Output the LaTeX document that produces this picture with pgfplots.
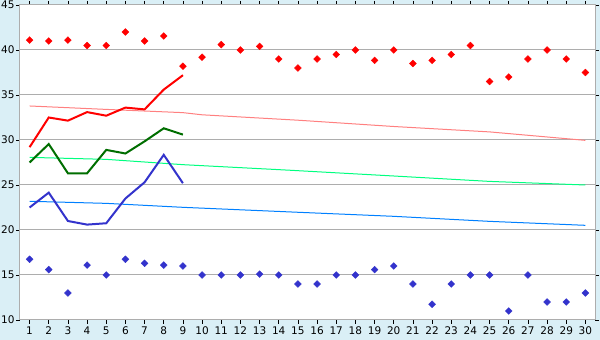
\documentclass[border=0pt]{standalone}
\usepackage{pgfplots}
\pgfplotsset{compat=1.18}
\usepackage{fontspec}
\setmainfont{DejaVu Sans}
\definecolor{bg}{HTML}{DAEFF6}
\definecolor{gridgray}{HTML}{ADADAD}
\definecolor{mred}{HTML}{FF0000}
\definecolor{mblue}{HTML}{3333CC}
\definecolor{dgreen}{HTML}{006E00}
\definecolor{salmon}{HTML}{FF8080}
\definecolor{spring}{HTML}{00FF80}
\definecolor{azure}{HTML}{0080FF}
\begin{document}
\begin{tikzpicture}[x=1pt,y=1pt]
\fill[bg] (0,0) rectangle (600,340);
\useasboundingbox (0,0) rectangle (600,340);
\begin{axis}[
  at={(20pt,20pt)}, anchor=south west,
  scale only axis, width=575pt, height=315pt,
  xmin=0.5, xmax=30.5, ymin=10, ymax=45,
  xtick={1,...,30}, ytick={10,15,...,45},
  ymajorgrids, grid style={gridgray, line width=1pt},
  axis line style={gridgray, line width=1pt},
  tick style={black, line width=0.8pt},
  tick align=outside, major tick length=4pt,
  ticklabel style={font=\fontsize{10.5}{12}\selectfont},
  xticklabel style={yshift=1pt},
  yticklabel style={xshift=2pt},
  /pgf/number format/assume math mode=true,
  axis background/.style={fill=white},
]
% trend lines
\addplot[salmon, line width=1pt] coordinates {(1,33.78) (5,33.4) (9,33.04) (10,32.8) (15,32.2) (20,31.5) (25,30.9) (30,29.96)};
\addplot[spring, line width=1pt] coordinates {(1,28.07) (5,27.85) (9,27.26) (14.5,26.65) (20,26.0) (25,25.4) (30,25.0)};
\addplot[azure, line width=1pt] coordinates {(1,23.19) (5,22.96) (9,22.52) (15,21.97) (20,21.52) (25,20.96) (30,20.52)};
% lines
\addplot[mred, line width=2pt] coordinates {(1,29.2) (2,32.5) (3,32.15) (4,33.1) (5,32.7) (6,33.6) (7,33.4) (8,35.6) (9,37.2)};
\addplot[dgreen, line width=2pt] coordinates {(1,27.5) (2,29.55) (3,26.3) (4,26.3) (5,28.9) (6,28.5) (7,29.85) (8,31.3) (9,30.6)};
\addplot[mblue, line width=2pt] coordinates {(1,22.5) (2,24.15) (3,21.0) (4,20.6) (5,20.75) (6,23.5) (7,25.3) (8,28.35) (9,25.2)};
% markers
\addplot[only marks, mark=diamond*, mark size=3.4pt, mark options={xscale=1.33}, mred] coordinates {
(1,41.1) (2,41.0) (3,41.1) (4,40.5) (5,40.5) (6,42.0) (7,41.0) (8,41.55) (9,38.2) (10,39.2)
(11,40.6) (12,40.0) (13,40.4) (14,39.0) (15,38.0) (16,39.0) (17,39.5) (18,40.0) (19,38.85) (20,40.0)
(21,38.5) (22,38.85) (23,39.5) (24,40.5) (25,36.5) (26,37.0) (27,39.0) (28,40.0) (29,39.0) (30,37.5)};
\addplot[only marks, mark=diamond*, mark size=3.4pt, mark options={xscale=1.33}, mblue] coordinates {
(1,16.75) (2,15.6) (3,13.0) (4,16.1) (5,15.0) (6,16.75) (7,16.3) (8,16.1) (9,16.0) (10,15.0)
(11,15.0) (12,15.0) (13,15.1) (14,15.0) (15,14.0) (16,14.0) (17,15.0) (18,15.0) (19,15.6) (20,16.0)
(21,14.0) (22,11.75) (23,14.0) (24,15.0) (25,15.0) (26,11.0) (27,15.0) (28,12.0) (29,12.0) (30,13.0)};
\end{axis}
\end{tikzpicture}
\end{document}
